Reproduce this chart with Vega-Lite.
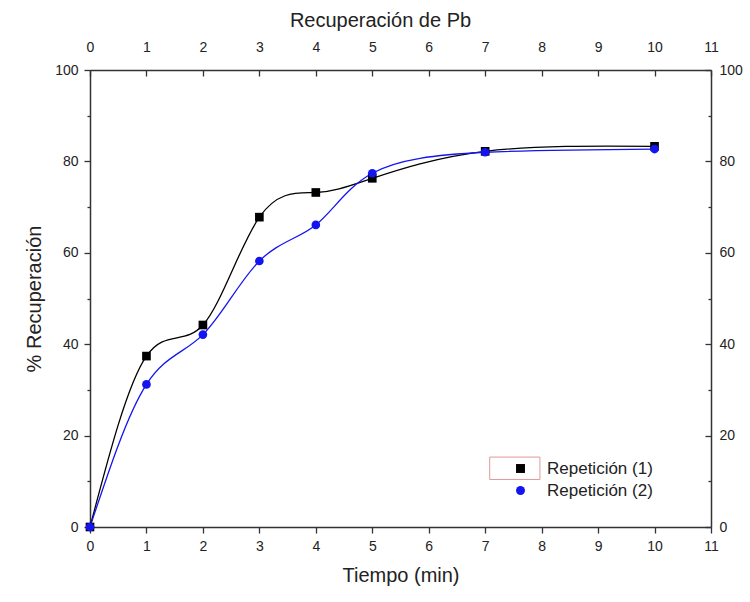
{
  "$schema": "https://vega.github.io/schema/vega-lite/v6.json",
  "width": 621,
  "height": 457,
  "autosize": "none",
  "padding": {"left": 90, "top": 70, "right": 39, "bottom": 75},
  "background": "white",
  "config": {
    "view": {"stroke": null},
    "font": "Liberation Sans",
    "axis": {
      "grid": false,
      "domainColor": "#333333",
      "domainWidth": 1.5,
      "tickColor": "#333333",
      "tickWidth": 1.3,
      "labelFont": "Liberation Sans",
      "labelFontSize": 14,
      "labelColor": "#222222",
      "titleFont": "Liberation Sans",
      "titleFontSize": 20,
      "titleFontWeight": "normal",
      "titleColor": "#222222",
      "labelOverlap": false,
      "labelFlush": false
    },
    "legend": {
      "orient": "none",
      "legendX": 422,
      "legendY": 390,
      "title": null,
      "labelFont": "Liberation Sans",
      "labelFontSize": 17,
      "labelColor": "#222222",
      "symbolSize": 80,
      "labelOffset": 18,
      "rowPadding": 4
    }
  },
  "datasets": {
    "rec": [
      {"tiempo": 0, "recuperacion": 0, "serie": "Repetición (1)"},
      {"tiempo": 1, "recuperacion": 37.4, "serie": "Repetición (1)"},
      {"tiempo": 2, "recuperacion": 44.2, "serie": "Repetición (1)"},
      {"tiempo": 3, "recuperacion": 67.8, "serie": "Repetición (1)"},
      {"tiempo": 4, "recuperacion": 73.2, "serie": "Repetición (1)"},
      {"tiempo": 5, "recuperacion": 76.3, "serie": "Repetición (1)"},
      {"tiempo": 7, "recuperacion": 82.2, "serie": "Repetición (1)"},
      {"tiempo": 10, "recuperacion": 83.3, "serie": "Repetición (1)"},
      {"tiempo": 0, "recuperacion": 0, "serie": "Repetición (2)"},
      {"tiempo": 1, "recuperacion": 31.2, "serie": "Repetición (2)"},
      {"tiempo": 2, "recuperacion": 42.1, "serie": "Repetición (2)"},
      {"tiempo": 3, "recuperacion": 58.2, "serie": "Repetición (2)"},
      {"tiempo": 4, "recuperacion": 66.1, "serie": "Repetición (2)"},
      {"tiempo": 5, "recuperacion": 77.4, "serie": "Repetición (2)"},
      {"tiempo": 7, "recuperacion": 82.0, "serie": "Repetición (2)"},
      {"tiempo": 10, "recuperacion": 82.7, "serie": "Repetición (2)"}
    ],
    "box": [
      {"xa": 7.08, "xb": 7.97, "ya": 10.4, "yb": 15.3}
    ]
  },
  "layer": [
    {
      "data": {"name": "box"},
      "mark": {"type": "rect", "fillOpacity": 0, "stroke": "#e09a9a", "strokeWidth": 1},
      "encoding": {
        "x": {"field": "xa", "type": "quantitative", "scale": {"domain": [0, 11], "nice": false}, "axis": null},
        "x2": {"field": "xb"},
        "y": {"field": "ya", "type": "quantitative", "scale": {"domain": [0, 100], "nice": false}, "axis": null},
        "y2": {"field": "yb"}
      }
    },
    {
      "data": {"name": "rec"},
      "transform": [{"filter": "datum.serie === 'Repetición (1)'"}],
      "mark": {"type": "line", "interpolate": "natural", "strokeWidth": 1.3, "color": "#000000"},
      "encoding": {
        "x": {
          "field": "tiempo", "type": "quantitative",
          "scale": {"domain": [0, 11], "nice": false},
          "axis": {
            "orient": "bottom",
            "title": "Tiempo (min)",
            "format": "d",
            "values": [0, 0.5, 1, 1.5, 2, 2.5, 3, 3.5, 4, 4.5, 5, 5.5, 6, 6.5, 7, 7.5, 8, 8.5, 9, 9.5, 10, 10.5, 11],
            "labelExpr": "datum.value % 1 === 0 ? datum.label : ''",
            "tickSize": {"expr": "datum.value % 1 === 0 ? 6 : 3"},
            "labelPadding": 6,
            "titlePadding": 12
          }
        },
        "y": {
          "field": "recuperacion", "type": "quantitative",
          "scale": {"domain": [0, 100], "nice": false},
          "axis": {
            "orient": "left",
            "title": "% Recuperación",
            "values": [0, 10, 20, 30, 40, 50, 60, 70, 80, 90, 100],
            "labelExpr": "datum.value % 20 === 0 ? datum.label : ''",
            "tickSize": {"expr": "datum.value % 20 === 0 ? 6 : 3"},
            "labelPadding": 6,
            "titlePadding": 10
          }
        }
      }
    },
    {
      "data": {"name": "rec"},
      "transform": [{"filter": "datum.serie === 'Repetición (2)'"}],
      "mark": {"type": "line", "interpolate": "natural", "strokeWidth": 1.3, "color": "#1414f0"},
      "encoding": {
        "x": {"field": "tiempo", "type": "quantitative", "axis": null},
        "y": {"field": "recuperacion", "type": "quantitative", "axis": null}
      }
    },
    {
      "data": {"name": "rec"},
      "mark": {"type": "point", "filled": true, "size": 75, "opacity": 1},
      "encoding": {
        "x": {
          "field": "tiempo", "type": "quantitative",
          "axis": {
            "orient": "top",
            "title": "Recuperación de Pb",
            "titleX": 290,
            "format": "d",
            "values": [0, 0.5, 1, 1.5, 2, 2.5, 3, 3.5, 4, 4.5, 5, 5.5, 6, 6.5, 7, 7.5, 8, 8.5, 9, 9.5, 10, 10.5, 11],
            "labelExpr": "datum.value % 1 === 0 ? datum.label : ''",
            "tickSize": {"expr": "datum.value % 1 === 0 ? -6 : -3"},
            "labelPadding": 22,
            "titlePadding": 10
          }
        },
        "y": {
          "field": "recuperacion", "type": "quantitative",
          "axis": {
            "orient": "right",
            "title": null,
            "values": [0, 10, 20, 30, 40, 50, 60, 70, 80, 90, 100],
            "labelExpr": "datum.value % 20 === 0 ? datum.label : ''",
            "tickSize": {"expr": "datum.value % 20 === 0 ? -6 : -3"},
            "labelPadding": 14
          }
        },
        "color": {
          "field": "serie", "type": "nominal",
          "scale": {"domain": ["Repetición (1)", "Repetición (2)"], "range": ["#000000", "#1414f0"]}
        },
        "shape": {
          "field": "serie", "type": "nominal",
          "scale": {"domain": ["Repetición (1)", "Repetición (2)"], "range": ["square", "circle"]}
        }
      }
    }
  ],
  "resolve": {"axis": {"x": "independent", "y": "independent"}}
}
